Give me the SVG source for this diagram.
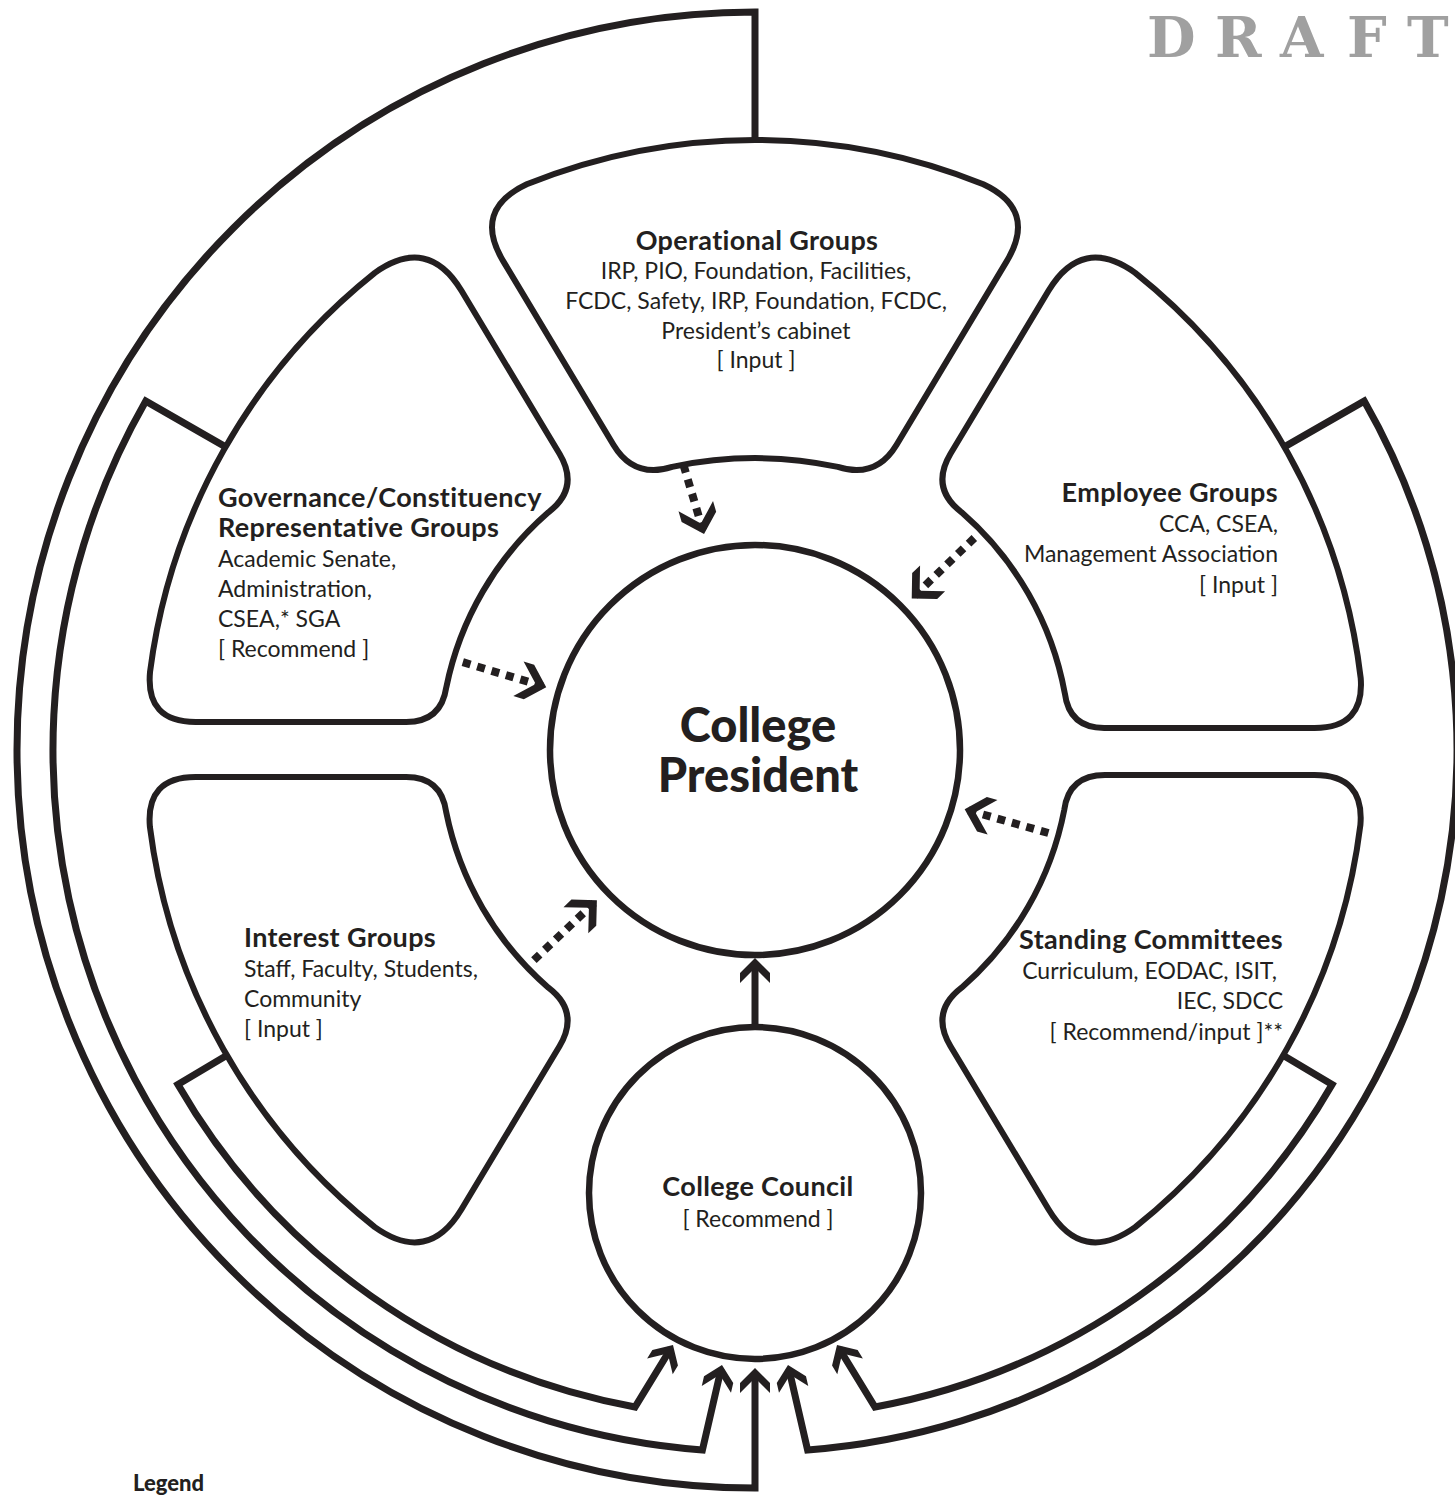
<svg xmlns="http://www.w3.org/2000/svg" width="1455" height="1495" viewBox="0 0 1455 1495">
<style>
.shape{fill:#fff;stroke:#231f20;stroke-width:6;stroke-linejoin:round}
.conn{fill:none;stroke:#231f20;stroke-width:7;stroke-linejoin:miter}
.dot{fill:none;stroke:#231f20;stroke-width:8;stroke-dasharray:8 7}
.t{font-family:Lato,"Open Sans",sans-serif;fill:#231f20}
.b{font-weight:700;font-size:27px;letter-spacing:0.35px}
.r{font-weight:400;font-size:23px}
.mid{text-anchor:middle}
.end{text-anchor:end}
</style>
<defs>
<marker id="chev" markerUnits="userSpaceOnUse" markerWidth="40" markerHeight="40" viewBox="-30 -20 40 40" refX="0" refY="0" orient="auto" overflow="visible">
<polygon points="4,0 -11,-15 -21,-15 -6,0 -21,15 -11,15" fill="#231f20"/>
</marker>
<marker id="chevd" markerUnits="userSpaceOnUse" markerWidth="40" markerHeight="44" viewBox="-30 -22 40 44" refX="0" refY="0" orient="auto" overflow="visible">
<polygon points="4,0 -14,-18 -25,-18 -7,0 -25,18 -14,18" fill="#231f20"/>
</marker>
</defs>
<rect width="1455" height="1495" fill="#fff"/>

<g id="connectors">
<path class="conn" d="M755,140 V12 A738,738 0 0 0 17,750 A738,738 0 0 0 755,1488 V1372" marker-end="url(#chev)"/>
<path class="conn" d="M225.6,446.9 L145.8,401.1 A702,702 0 0 0 702.4,1450 L721.1,1368.9" marker-end="url(#chev)"/>
<path class="conn" d="M1284.4,446.9 L1364.2,401.1 A702,702 0 0 1 807.6,1450 L788.9,1368.9" marker-end="url(#chev)"/>
<path class="conn" d="M227,1055.3 L177.9,1084.5 A667,667 0 0 0 635,1407 L670.9,1348.4" marker-end="url(#chev)"/>
<path class="conn" d="M1283,1055.3 L1332.1,1084.5 A667,667 0 0 1 875,1407 L839.1,1348.4" marker-end="url(#chev)"/>
<path class="conn" d="M755,1024 V962" marker-end="url(#chev)"/>
<path class="dot" d="M683.5,465 L702.9,530.2" marker-end="url(#chevd)"/>
<path class="dot" d="M974.3,538 L914.6,595.7" marker-end="url(#chevd)"/>
<path class="dot" d="M1048.4,833 L968.5,810.4" marker-end="url(#chevd)"/>
<path class="dot" d="M533.9,960.1 L594,903" marker-end="url(#chevd)"/>
<path class="dot" d="M462.8,662.2 L542.4,686" marker-end="url(#chevd)"/>
</g>

<g id="operational">
<path class="shape" d="M503.2,261.1 Q472.3,209.7 526.7,184.3 A610,610 0 0 1 983.3,184.3 Q1037.7,209.7 1006.8,261.1 L896.6,444.7 Q876,479 837.9,466.9 A400,400 0 0 0 672.1,466.9 Q634,479 613.4,444.7 Z"/>
<text class="t b mid" x="757" y="250">Operational Groups</text>
<text class="t r mid" x="756" y="279">IRP, PIO, Foundation, Facilities,</text>
<text class="t r mid" x="756" y="309">FCDC, Safety, IRP, Foundation, FCDC,</text>
<text class="t r mid" x="756" y="339">President’s cabinet</text>
<text class="t r mid" x="756" y="368">[ Input ]</text>
</g>

<g id="governance">
<path class="shape" d="M461.5,290.8 L559.5,453.8 Q580.1,488.1 548.4,512.3 A315,315 0 0 0 446.3,687.3 Q441.2,722 406.2,722 L195.6,722 Q145.6,722 150,672.2 A610,610 0 0 1 374.8,272.9 Q428,235.1 461.5,290.8 Z"/>
<text class="t b" x="218" y="507">Governance/Constituency</text>
<text class="t b" x="218" y="537">Representative Groups</text>
<text class="t r" x="218" y="567">Academic Senate,</text>
<text class="t r" x="218" y="597">Administration,</text>
<text class="t r" x="218" y="627">CSEA,* SGA</text>
<text class="t r" x="218" y="657">[ Recommend ]</text>
</g>

<g id="employee">
<path class="shape" d="M1048.5,290.8 L950.5,453.8 Q929.9,488.1 961.6,512.3 A315,315 0 0 1 1064.8,693.2 Q1069.2,728 1104.2,728 L1314.6,728 Q1364.6,728 1360.7,678.1 A610,610 0 0 0 1135.2,272.9 Q1082,235.1 1048.5,290.8 Z"/>
<text class="t b end" x="1278" y="502">Employee Groups</text>
<text class="t r end" x="1278" y="532">CCA, CSEA,</text>
<text class="t r end" x="1278" y="562">Management Association</text>
<text class="t r end" x="1278" y="593">[ Input ]</text>
</g>

<g id="interest">
<path class="shape" d="M461.5,1209.2 L559.5,1046.2 Q580.1,1011.9 548.4,987.7 A315,315 0 0 1 446.1,811.7 Q441.2,777 406.2,777 L195.6,777 Q145.6,777 149.9,826.9 A610,610 0 0 0 374.8,1227.1 Q428,1264.9 461.5,1209.2 Z"/>
<text class="t b" x="244" y="947">Interest Groups</text>
<text class="t r" x="244" y="977">Staff, Faculty, Students,</text>
<text class="t r" x="244" y="1007">Community</text>
<text class="t r" x="244" y="1037">[ Input ]</text>
</g>

<g id="standing">
<path class="shape" d="M1048.5,1209.2 L950.5,1046.2 Q929.9,1011.9 961.6,987.7 A315,315 0 0 0 1064.3,809.7 Q1069,775 1105,775 L1314.5,775 Q1364.5,775 1360.4,824.9 A610,610 0 0 1 1135.2,1227.1 Q1082,1264.9 1048.5,1209.2 Z"/>
<text class="t b end" x="1283" y="949">Standing Committees</text>
<text class="t r end" x="1277" y="979">Curriculum, EODAC, ISIT,</text>
<text class="t r end" x="1283" y="1009">IEC, SDCC</text>
<text class="t r end" x="1283" y="1040">[ Recommend/input ]**</text>
</g>

<g id="president">
<circle cx="755" cy="750" r="205" fill="#fff" stroke="#231f20" stroke-width="6.5"/>
<text class="t mid" x="758" y="742" font-size="47" font-weight="900">College</text>
<text class="t mid" x="758" y="792" font-size="47" font-weight="900">President</text>
</g>

<g id="council">
<circle cx="755" cy="1193" r="166" fill="#fff" stroke="#231f20" stroke-width="6.5"/>
<text class="t b mid" x="758" y="1196">College Council</text>
<text class="t r mid" x="758" y="1227">[ Recommend ]</text>
</g>

<g id="legend">
<text class="t" x="133" y="1491" font-size="22" font-weight="900">Legend</text>
</g>

<g id="watermark">
<text x="1147 1215 1280 1347 1407" y="57" font-family="DejaVu Serif, serif" font-weight="700" font-size="56" fill="#a0a0a0">DRAFT</text>
</g>
</svg>
